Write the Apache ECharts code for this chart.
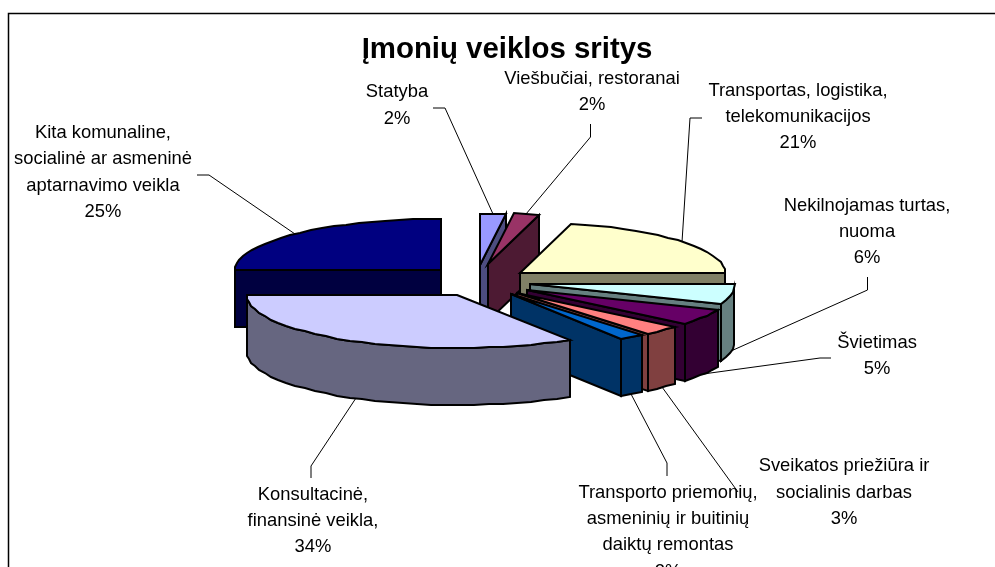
<!DOCTYPE html>
<html>
<head>
<meta charset="utf-8">
<title>Įmonių veiklos sritys</title>
<script src="https://cdn.jsdelivr.net/npm/echarts@6/dist/echarts.min.js"></script>
<style>html,body{margin:0;padding:0;background:#fff;overflow:hidden}#c{width:995px;height:567px}</style>
</head>
<body>
<div id="c"></div>
<script>
// Data, clockwise from 12 o'clock
var categories = [
  "Statyba",
  "Viešbučiai, restoranai",
  "Transportas, logistika,\ntelekomunikacijos",
  "Nekilnojamas turtas,\nnuoma",
  "Švietimas",
  "Sveikatos priežiūra ir\nsocialinis darbas",
  "Transporto priemonių,\nasmeninių ir buitinių\ndaiktų remontas",
  "Konsultacinė,\nfinansinė veikla,",
  "Kita komunaline,\nsocialinė ar asmeninė\naptarnavimo veikla"
];
var values = [2, 2, 21, 6, 5, 3, 2, 34, 25];

// Styles
var topColors  = ["#9999FF","#993366","#FFFFCC","#CCFFFF","#660066","#FF8080","#0066CC","#CCCCFF","#000080"];
var sideColors = ["#4D4D80","#4D1A33","#808066","#668080","#330033","#804040","#003366","#666680","#000040"];

// Layout of the exploded 3D pie
var sliceCenters = [[480,265],[488,264],[520,273],[530,284],[527,290],[517,293],[511,294],[457,295],[441,270]];
var sliceRadiusX = [205,205,205,205,205,205,205,210,206];
var radiusYBack = 51, radiusYFront = 53, depth = 57;
var paintOrder = [8,0,1,2,3,4,5,6,7];
var labelCenters = [[397,105.5],[592,92],[798,117],[867,232],[877,356],[844,492.5],[668,532],[313,521],[103,172.5]];
var leaderStarts = [
  [[433,108],[445,108]],
  [[590.5,124],[590.5,137]],
  [[702,118],[690,118]],
  [[867.5,277],[867.5,290]],
  [[831,358],[820,358]],
  [[738,492]],
  [[667,476],[667,463]],
  [[311,478],[311,466]],
  [[197,175],[209,175]]
];

var total = values.reduce(function (a, b) { return a + b; }, 0);
var startAngles = [];
values.reduce(function (acc, v, i) { startAngles[i] = acc; return acc + v; }, 0);

function toRad(a) { return a * Math.PI / 180; }

function renderSlice(params, api) {
  var i = api.value(1), v = api.value(0);
  var a0 = startAngles[i] / total * 360, a1 = a0 + v / total * 360;
  var c = sliceCenters[i], rx = sliceRadiusX[i];
  var pt = function (deg, dz) {
    var cs = Math.cos(toRad(deg));
    var ry = cs < 0 ? radiusYFront : radiusYBack;
    return [Math.round(c[0] + rx * Math.sin(toRad(deg))),
            Math.round(c[1] - ry * cs + (dz || 0))];
  };
  var arc = [], steps = Math.max(2, Math.round((a1 - a0) / 4));
  for (var s = 0; s <= steps; s++) arc.push(a0 + (a1 - a0) * s / steps);
  var rank = paintOrder.indexOf(i) * 3 + 1;
  var style = { fill: sideColors[i], stroke: "#000", lineWidth: 2, lineJoin: "miter" };
  var children = [];
  var wall = function (deg) {
    children.push({ type: "polygon", z2: rank, shape: { points: [[c[0], c[1]], pt(deg), pt(deg, depth), [c[0], c[1] + depth]] }, style: style });
  };
  // only walls that face the viewer
  if (Math.sin(toRad(a0)) < -1e-6) wall(a0);
  if (Math.sin(toRad(a1)) > 1e-6) wall(a1);
  // outer rim, front half
  var front = arc.filter(function (d) { return Math.cos(toRad(d)) <= 0; });
  if (front.length > 1) {
    var rim = front.map(function (d) { return pt(d); })
      .concat(front.slice().reverse().map(function (d) { return pt(d, depth); }));
    children.push({ type: "polygon", z2: rank + 1, shape: { points: rim }, style: style });
  }
  // top face
  var top = [[c[0], c[1]]].concat(arc.map(function (d) { return pt(d); }));
  children.push({ type: "polygon", z2: rank + 2, shape: { points: top },
    style: { fill: topColors[i], stroke: "#000", lineWidth: 2, lineJoin: "miter" } });
  // leader line: from the label to the middle of the slice's outer edge
  var mid = (a0 + a1) / 2;
  var anchor = pt(mid, Math.cos(toRad(mid)) < 0 ? depth : 0);
  children.push({ type: "polyline", z2: 90, shape: { points: leaderStarts[i].concat([anchor]) },
    style: { fill: null, stroke: "#000", lineWidth: 1 } });
  // label
  children.push({ type: "text", z2: 100, style: {
    x: labelCenters[i][0], y: labelCenters[i][1],
    text: categories[i] + "\n" + Math.round(v / total * 100) + "%",
    align: "center", verticalAlign: "middle", lineHeight: 26.3,
    font: "18.4px 'Liberation Sans', Arial, sans-serif", fill: "#000" } });
  return { type: "group", children: children };
}

var chart = echarts.init(document.getElementById("c"), null, { renderer: "canvas" });
chart.setOption({
  animation: false,
  backgroundColor: "#fff",
  title: {
    text: "Įmonių veiklos sritys",
    left: 502, top: 30, textAlign: "center",
    textStyle: { fontFamily: "'Liberation Sans', Arial, sans-serif", fontSize: 29.4, fontWeight: "bold", color: "#000" }
  },
  graphic: [{ type: "rect", silent: true, z: -1,
    shape: { x: 8.5, y: 13.5, width: 1100, height: 700 },
    style: { fill: "#fff", stroke: "#000", lineWidth: 1.5 } }],
  tooltip: { show: false },
  series: [{
    type: "custom",
    coordinateSystem: "none",
    silent: true,
    clip: false,
    renderItem: renderSlice,
    data: paintOrder.map(function (i) { return [values[i], i]; })
  }]
});
</script>
</body>
</html>
